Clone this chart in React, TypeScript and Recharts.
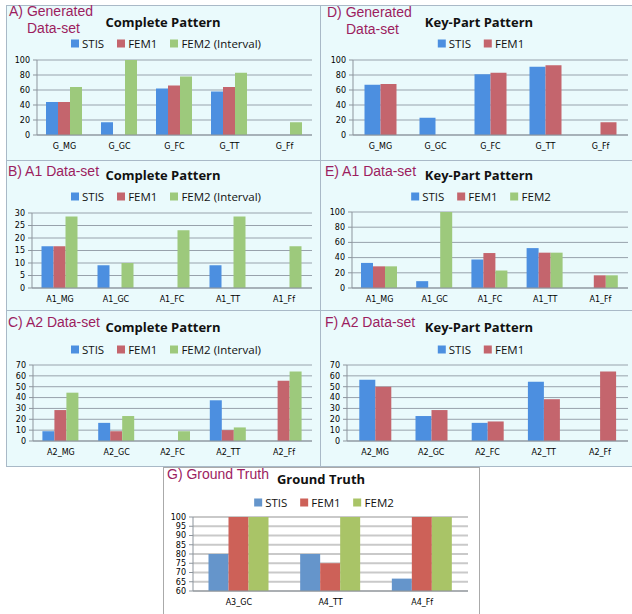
import React from "react";
import { BarChart, Bar, XAxis, YAxis, CartesianGrid } from "recharts";

// ---- data ----
const G_CATS = ["G_MG", "G_GC", "G_FC", "G_TT", "G_Ff"];
const A1_CATS = ["A1_MG", "A1_GC", "A1_FC", "A1_TT", "A1_Ff"];
const A2_CATS = ["A2_MG", "A2_GC", "A2_FC", "A2_TT", "A2_Ff"];
const GT_CATS = ["A3_GC", "A4_TT", "A4_Ff"];

// A) Generated, complete pattern
const A_STIS = [44, 17, 62, 58, 0];
const A_FEM1 = [44, 0, 66, 64, 0];
const A_FEM2 = [64, 100, 78, 83, 17];
// D) Generated, key-part pattern
const D_STIS = [67, 23, 81, 91, 0];
const D_FEM1 = [68, 0, 83, 93, 17];
// B) A1, complete pattern
const B_STIS = [16.7, 9.1, 0, 9.1, 0];
const B_FEM1 = [16.7, 0, 0, 0, 0];
const B_FEM2 = [28.6, 10, 23.1, 28.6, 16.7];
// E) A1, key-part pattern
const E_STIS = [33, 9, 37.5, 52.5, 0];
const E_FEM1 = [28.5, 0, 46, 46.5, 16.7];
const E_FEM2 = [28.5, 100, 23, 46.5, 16.7];
// C) A2, complete pattern
const C_STIS = [9, 16.7, 0, 37.5, 0];
const C_FEM1 = [28.5, 9, 0, 10, 55.5];
const C_FEM2 = [44.5, 23, 9, 12.5, 64];
// F) A2, key-part pattern
const F_STIS = [56.5, 23, 16.7, 54.5, 0];
const F_FEM1 = [50, 28.5, 18, 38.5, 64];
// G) Ground truth
const GT_STIS = [80, 80, 66.7];
const GT_FEM1 = [100, 75, 100];
const GT_FEM2 = [100, 100, 100];

const TICKS_100 = [0, 20, 40, 60, 80, 100];
const TICKS_30 = [0, 5, 10, 15, 20, 25, 30];
const TICKS_70 = [0, 10, 20, 30, 40, 50, 60, 70];
const TICKS_GT = [60, 65, 70, 75, 80, 85, 90, 95, 100];

const COLORS = { STIS: "#4c8fe0", FEM1: "#c4656d", FEM2: "#9dc97c" };
const GT_COLORS = { STIS: "#6595cb", FEM1: "#cd6158", FEM2: "#a9c467" };

const LABEL_COLOR = "#9c1d5f";
const BG = "#eafafc";
const BORDER = "#a9b9c7";

type Box = { x: number; y: number; w: number; h: number };
type Plot = { x1: number; y1: number; x2: number; y2: number };

function rows(cats: string[], series: Record<string, number[]>) {
  return cats.map((name, i) => {
    const r: Record<string, any> = { name };
    Object.keys(series).forEach((k) => (r[k] = series[k][i]));
    return r;
  });
}

interface PanelProps {
  box: Box;
  plot: Plot;
  label: string[];
  labelPos: { x: number; y: number; indent?: number };
  title: string;
  titlePos: { x: number; y: number };
  legendPos: { x: number; y: number };
  legendNames: string[];
  keys: string[];
  colors: Record<string, string>;
  data: Record<string, any>[];
  domain: [number, number];
  ticks: number[];
  gap: number;
  gridColor?: string;
  gridWidth?: number;
  bg?: string;
}

function Panel(p: PanelProps) {
  const yw = 20;
  const xh = 20;
  const margin = {
    top: p.plot.y1 - p.box.y,
    right: p.box.x + p.box.w - p.plot.x2,
    bottom: p.box.y + p.box.h - p.plot.y2 - xh,
    left: p.plot.x1 - p.box.x - yw,
  };
  const tickStyle = { fontSize: 8, fill: "#000", fontFamily: "DejaVu Sans" };
  return (
    <>
      <div
        style={{
          position: "absolute",
          left: p.box.x,
          top: p.box.y,
          width: p.box.w,
          height: p.box.h,
          boxSizing: "border-box",
          border: `1px solid ${p.bg ? "#aaaaaa" : BORDER}`,
          background: p.bg || BG,
        }}
      />
      <div style={{ position: "absolute", left: p.box.x, top: p.box.y }}>
        <BarChart
          width={p.box.w}
          height={p.box.h}
          data={p.data}
          margin={margin}
          barGap={0}
          barCategoryGap={p.gap}
        >
          <CartesianGrid
            vertical={false}
            stroke={p.gridColor || "#98a2ac"}
            strokeWidth={p.gridWidth || 1}
          />
          <XAxis
            dataKey="name"
            height={xh}
            interval={0}
            tickLine={false}
            axisLine={{ stroke: "#8d959d" }}
            tick={tickStyle}
          />
          <YAxis
            width={yw}
            domain={p.domain}
            ticks={p.ticks}
            interval={0}
            tickSize={4}
            tickMargin={3}
            tickLine={{ stroke: "#8d959d" }}
            axisLine={{ stroke: "#8d959d" }}
            tick={tickStyle}
          />
          {p.keys.map((k) => (
            <Bar key={k} dataKey={k} fill={p.colors[k]} isAnimationActive={false} />
          ))}
        </BarChart>
      </div>
      <div
        style={{
          position: "absolute",
          left: p.labelPos.x,
          top: p.labelPos.y,
          fontFamily: "Liberation Sans",
          fontSize: 14,
          lineHeight: "17px",
          color: LABEL_COLOR,
          whiteSpace: "nowrap",
        }}
      >
        {p.label.map((l, i) => (
          <div key={i} style={{ paddingLeft: i > 0 ? p.labelPos.indent || 0 : 0 }}>
            {l}
          </div>
        ))}
      </div>
      <div
        style={{
          position: "absolute",
          left: p.titlePos.x,
          top: p.titlePos.y,
          transform: "translate(-50%, -50%)",
          fontFamily: "Open Sans",
          fontWeight: 700,
          fontSize: 13,
          color: "#111",
          whiteSpace: "nowrap",
        }}
      >
        {p.title}
      </div>
      <div
        style={{
          position: "absolute",
          left: p.legendPos.x,
          top: p.legendPos.y,
          transform: "translate(-50%, -50%)",
          display: "flex",
          alignItems: "center",
          gap: 13,
          fontFamily: "Open Sans",
          fontSize: 11.5,
          color: "#111",
          whiteSpace: "nowrap",
        }}
      >
        {p.keys.map((k, i) => (
          <div key={k} style={{ display: "flex", alignItems: "center", gap: 3 }}>
            <span style={{ width: 8, height: 8, background: p.colors[k], display: "inline-block" }} />
            <span>{p.legendNames[i]}</span>
          </div>
        ))}
      </div>
    </>
  );
}

export default function App() {
  const three = ["STIS", "FEM1", "FEM2"];
  const two = ["STIS", "FEM1"];
  const interval = ["STIS", "FEM1", "FEM2 (Interval)"];
  return (
    <div
      style={{
        position: "absolute",
        left: 0,
        top: 0,
        width: 632,
        height: 614,
        background: "#fff",
        overflow: "hidden",
      }}
    >
      <Panel
        box={{ x: 6, y: 5, w: 315, h: 156 }}
        plot={{ x1: 37, y1: 60, x2: 312, y2: 135 }}
        label={["A) Generated", "Data-set"]}
        labelPos={{ x: 9, y: 3, indent: 18 }}
        title="Complete Pattern"
        titlePos={{ x: 163, y: 22 }}
        legendPos={{ x: 166, y: 43 }}
        legendNames={interval}
        keys={three}
        colors={COLORS}
        data={rows(G_CATS, { STIS: A_STIS, FEM1: A_FEM1, FEM2: A_FEM2 })}
        domain={[0, 100]}
        ticks={TICKS_100}
        gap={9}
      />
      <Panel
        box={{ x: 320, y: 5, w: 314, h: 156 }}
        plot={{ x1: 353, y1: 60, x2: 628, y2: 135 }}
        label={["D) Generated", "Data-set"]}
        labelPos={{ x: 327, y: 4, indent: 19 }}
        title="Key-Part Pattern"
        titlePos={{ x: 479, y: 22 }}
        legendPos={{ x: 481, y: 43 }}
        legendNames={two}
        keys={two}
        colors={COLORS}
        data={rows(G_CATS, { STIS: D_STIS, FEM1: D_FEM1 })}
        domain={[0, 100]}
        ticks={TICKS_100}
        gap={11.5}
      />
      <Panel
        box={{ x: 6, y: 160, w: 315, h: 151 }}
        plot={{ x1: 32, y1: 213, x2: 312, y2: 288 }}
        label={["B) A1 Data-set"]}
        labelPos={{ x: 8, y: 163 }}
        title="Complete Pattern"
        titlePos={{ x: 163, y: 175 }}
        legendPos={{ x: 166, y: 196 }}
        legendNames={interval}
        keys={three}
        colors={COLORS}
        data={rows(A1_CATS, { STIS: B_STIS, FEM1: B_FEM1, FEM2: B_FEM2 })}
        domain={[0, 30]}
        ticks={TICKS_30}
        gap={9.5}
      />
      <Panel
        box={{ x: 320, y: 160, w: 314, h: 151 }}
        plot={{ x1: 352, y1: 212, x2: 628, y2: 288 }}
        label={["E) A1 Data-set"]}
        labelPos={{ x: 325, y: 163 }}
        title="Key-Part Pattern"
        titlePos={{ x: 479, y: 175 }}
        legendPos={{ x: 481, y: 196 }}
        legendNames={three}
        keys={three}
        colors={COLORS}
        data={rows(A1_CATS, { STIS: E_STIS, FEM1: E_FEM1, FEM2: E_FEM2 })}
        domain={[0, 100]}
        ticks={TICKS_100}
        gap={9}
      />
      <Panel
        box={{ x: 6, y: 310, w: 315, h: 157 }}
        plot={{ x1: 33, y1: 365, x2: 312, y2: 441 }}
        label={["C) A2 Data-set"]}
        labelPos={{ x: 8, y: 314 }}
        title="Complete Pattern"
        titlePos={{ x: 163, y: 327 }}
        legendPos={{ x: 166, y: 349 }}
        legendNames={interval}
        keys={three}
        colors={COLORS}
        data={rows(A2_CATS, { STIS: C_STIS, FEM1: C_FEM1, FEM2: C_FEM2 })}
        domain={[0, 70]}
        ticks={TICKS_70}
        gap={9.4}
      />
      <Panel
        box={{ x: 320, y: 310, w: 314, h: 157 }}
        plot={{ x1: 347, y1: 365, x2: 628, y2: 441 }}
        label={["F) A2 Data-set"]}
        labelPos={{ x: 325, y: 314 }}
        title="Key-Part Pattern"
        titlePos={{ x: 479, y: 327 }}
        legendPos={{ x: 481, y: 349 }}
        legendNames={two}
        keys={two}
        colors={COLORS}
        data={rows(A2_CATS, { STIS: F_STIS, FEM1: F_FEM1 })}
        domain={[0, 70]}
        ticks={TICKS_70}
        gap={12.3}
      />
      <Panel
        box={{ x: 163, y: 467, w: 317, h: 150 }}
        plot={{ x1: 193, y1: 517, x2: 468, y2: 591 }}
        label={["G) Ground Truth"]}
        labelPos={{ x: 167, y: 466 }}
        title="Ground Truth"
        titlePos={{ x: 321, y: 479 }}
        legendPos={{ x: 324, y: 502 }}
        legendNames={three}
        keys={three}
        colors={GT_COLORS}
        data={rows(GT_CATS, { STIS: GT_STIS, FEM1: GT_FEM1, FEM2: GT_FEM2 })}
        domain={[60, 100]}
        ticks={TICKS_GT}
        gap={15.5}
        gridColor="#c9c9c9"
        gridWidth={2}
        bg="#ffffff"
      />
    </div>
  );
}
